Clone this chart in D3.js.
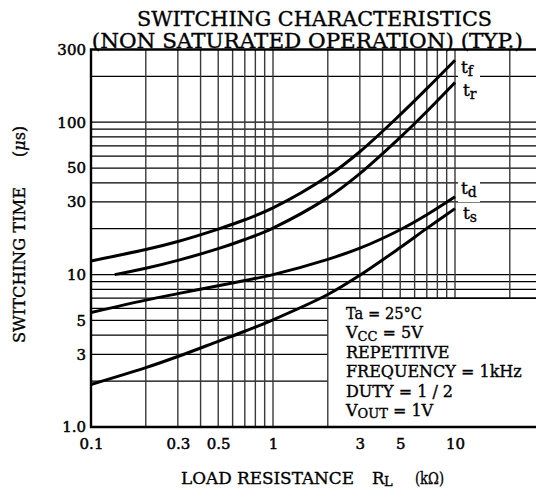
<!DOCTYPE html>
<html>
<head>
<meta charset="utf-8">
<script src="https://cdn.jsdelivr.net/npm/d3@7"></script>
<style>
  html, body { margin: 0; padding: 0; background: #fff; }
  svg { display: block; }
  text { font-family: "DejaVu Serif", "Liberation Serif", serif; fill: #000; stroke: #000; stroke-width: 0.35px; }
</style>
</head>
<body>
<script>
// ---- data ----
const rl_tf = [0.1, 0.2, 0.3, 0.5, 0.7, 1, 2, 3, 5, 7, 10];
const tf    = [12.3, 14.6, 16.5, 19.9, 22.9, 27.4, 44.2, 64, 112, 166, 255];

const rl_tr = [0.135, 0.2, 0.3, 0.5, 0.7, 1, 2, 3, 5, 7, 10];
const tr    = [10.0, 11.0, 12.4, 14.8, 17.0, 20.2, 32.0, 46, 79.5, 117.5, 182];

const rl_td = [0.1, 0.2, 0.3, 0.5, 0.7, 1, 2, 3, 5, 7, 10];
const td    = [5.64, 6.8, 7.5, 8.45, 9.15, 10.0, 12.6, 14.9, 19.7, 24.7, 32.4];

const rl_ts = [0.1, 0.2, 0.3, 0.5, 0.7, 1, 2, 3, 5, 7, 10];
const ts    = [1.9, 2.45, 2.9, 3.65, 4.25, 5.05, 7.4, 9.9, 15.05, 20.1, 27.1];

const xTickValues = [0.1, 0.3, 0.5, 1, 3, 5, 10];
const xTickLabels = ["0.1", "0.3", "0.5", "1", "3", "5", "10"];
const yTickValues = [1, 3, 5, 10, 30, 50, 100, 300];
const yTickLabels = ["1.0", "3", "5", "10", "30", "50", "100", "300"];

const xGridValues = [0.1,0.2,0.3,0.4,0.5,0.6,0.7,0.8,0.9,1,2,3,4,5,6,7,8,9,10,20,30];
const yGridValues = [1,2,3,4,5,6,7,8,9,10,20,30,40,50,60,70,80,90,100,200,300];

const seriesNames = ["f", "r", "d", "s"];
const conditions = ["Ta = 25°C", "VCC = 5V", "REPETITIVE", "FREQUENCY = 1kHz", "DUTY = 1 / 2", "VOUT = 1V"];

// ---- chart ----
const W = 536, H = 489;
const svg = d3.select("body").append("svg").attr("width", W).attr("height", H);
svg.append("rect").attr("width", W).attr("height", H).attr("fill", "#fff");

const x = d3.scaleLog().domain([0.1, 100]).range([91, 637]);
const y = d3.scaleLog().domain([1, 300]).range([427, 49.5]);

const boxX = x(2), boxY = y(7);
const xR = W;

const grid = svg.append("g");
// horizontal grid
grid.selectAll("line.h").data(yGridValues.filter(v => v > 1 && v < 300)).join("line")
  .attr("x1", x(0.1)).attr("x2", v => v < 7 ? boxX : xR)
  .attr("y1", v => y(v)).attr("y2", v => y(v))
  .attr("stroke", "#000").attr("stroke-width", 1.25);
// vertical grid
grid.selectAll("line.v").data(xGridValues.filter(v => v > 0.1)).join("line")
  .attr("x1", v => x(v)).attr("x2", v => x(v))
  .attr("y1", y(300)).attr("y2", v => v > 2 ? boxY : y(1))
  .attr("stroke", "#3a3a3a").attr("stroke-width", 1.4);
// box top
grid.append("line").attr("x1", boxX).attr("x2", xR).attr("y1", boxY).attr("y2", boxY)
  .attr("stroke", "#000").attr("stroke-width", 1.4);

// border
svg.append("path")
  .attr("d", `M${xR},${y(300)}H${x(0.1)}V${y(1)}H${xR}`)
  .attr("fill", "none").attr("stroke", "#000").attr("stroke-width", 2.4);

// curves
const line = d3.line().x(d => x(d[0])).y(d => y(d[1])).curve(d3.curveCatmullRom.alpha(0.5));
const series = [[rl_tf, tf], [rl_tr, tr], [rl_td, td], [rl_ts, ts]];
series.forEach(([xs, ys]) => {
  svg.append("path").datum(xs.map((v, i) => [v, ys[i]]))
    .attr("d", line).attr("fill", "none").attr("stroke", "#000")
    .attr("stroke-width", 3).attr("stroke-linecap", "butt");
});

// curve labels
const labelPos = [[461, 73], [463, 96], [461, 194], [463, 219]];
seriesNames.forEach((n, i) => {
  const [lx, ly] = labelPos[i];
  svg.append("rect").attr("x", lx - 3).attr("y", ly - 14).attr("width", 22).attr("height", 22).attr("fill", "#fff");
  const t = svg.append("text").attr("x", lx).attr("y", ly).attr("font-size", 17);
  t.append("tspan").text("t");
  t.append("tspan").attr("font-size", 14).attr("dy", 3).text(n);
});

// axes
const xAxis = d3.axisBottom(x).tickValues(xTickValues)
  .tickFormat((d, i) => xTickLabels[i]).tickSize(0).tickPadding(0);
const gx = svg.append("g").attr("transform", `translate(0,${y(1)})`).call(xAxis);
gx.select(".domain").remove();
gx.selectAll("text").attr("font-family", "DejaVu Serif").attr("font-size", 15)
  .attr("fill", "#000").attr("dy", null).attr("y", 22).style("stroke-width", "0.5px");

const yAxis = d3.axisLeft(y).tickValues(yTickValues)
  .tickFormat((d, i) => yTickLabels[i]).tickSize(0).tickPadding(5);
const gy = svg.append("g").attr("transform", `translate(${x(0.1)},0)`).call(yAxis);
gy.select(".domain").remove();
gy.selectAll("text").attr("font-family", "DejaVu Serif").attr("font-size", 15)
  .attr("fill", "#000").style("stroke-width", "0.5px");

// titles
svg.append("text").attr("x", 314.5).attr("y", 25.5).attr("text-anchor", "middle")
  .attr("font-size", 21).attr("textLength", 355).attr("lengthAdjust", "spacingAndGlyphs")
  .text("SWITCHING CHARACTERISTICS");
svg.append("text").attr("x", 307.3).attr("y", 47.5).attr("text-anchor", "middle")
  .attr("font-size", 21).attr("textLength", 431).attr("lengthAdjust", "spacingAndGlyphs")
  .text("(NON SATURATED OPERATION) (TYP.)");

// x axis title
const xt = svg.append("g");
xt.append("text").attr("x", 181).attr("y", 484).attr("font-size", 16.5)
  .attr("textLength", 173).attr("lengthAdjust", "spacingAndGlyphs").text("LOAD RESISTANCE");
xt.append("text").attr("x", 372).attr("y", 484).attr("font-size", 16.5).text("R");
xt.append("text").attr("x", 384).attr("y", 486).attr("font-size", 13).text("L");
xt.append("text").attr("x", 415).attr("y", 484).attr("font-size", 16)
  .attr("textLength", 29).attr("lengthAdjust", "spacingAndGlyphs").text("(kΩ)");

// y axis title
svg.append("text").attr("transform", "translate(25,343) rotate(-90)").attr("font-size", 16.5)
  .attr("textLength", 156).attr("lengthAdjust", "spacingAndGlyphs").text("SWITCHING TIME");
const mu = svg.append("text").attr("transform", "translate(25,157) rotate(-90)").attr("font-size", 16);
mu.append("tspan").text("(");
mu.append("tspan").attr("font-style", "italic").text("μ");
mu.append("tspan").text("s)");

// conditions box text
const cy = [319, 338, 358, 377, 397, 416];
const cg = svg.append("g");
conditions.forEach((c, i) => {
  const t = cg.append("text").attr("x", 346).attr("y", cy[i]).attr("font-size", 16);
  if (c.startsWith("VCC") || c.startsWith("VOUT")) {
    const sub = c.startsWith("VCC") ? "CC" : "OUT";
    const sh = c.startsWith("VCC") ? 3 : 2;
    t.append("tspan").text("V");
    t.append("tspan").attr("font-size", 13).attr("dy", sh).text(sub);
    t.append("tspan").attr("dy", -sh).text(c.slice(1 + sub.length));
  } else {
    t.text(c);
    if (i === 0) t.attr("textLength", 76).attr("lengthAdjust", "spacingAndGlyphs");
  }
});
</script>
</body>
</html>
